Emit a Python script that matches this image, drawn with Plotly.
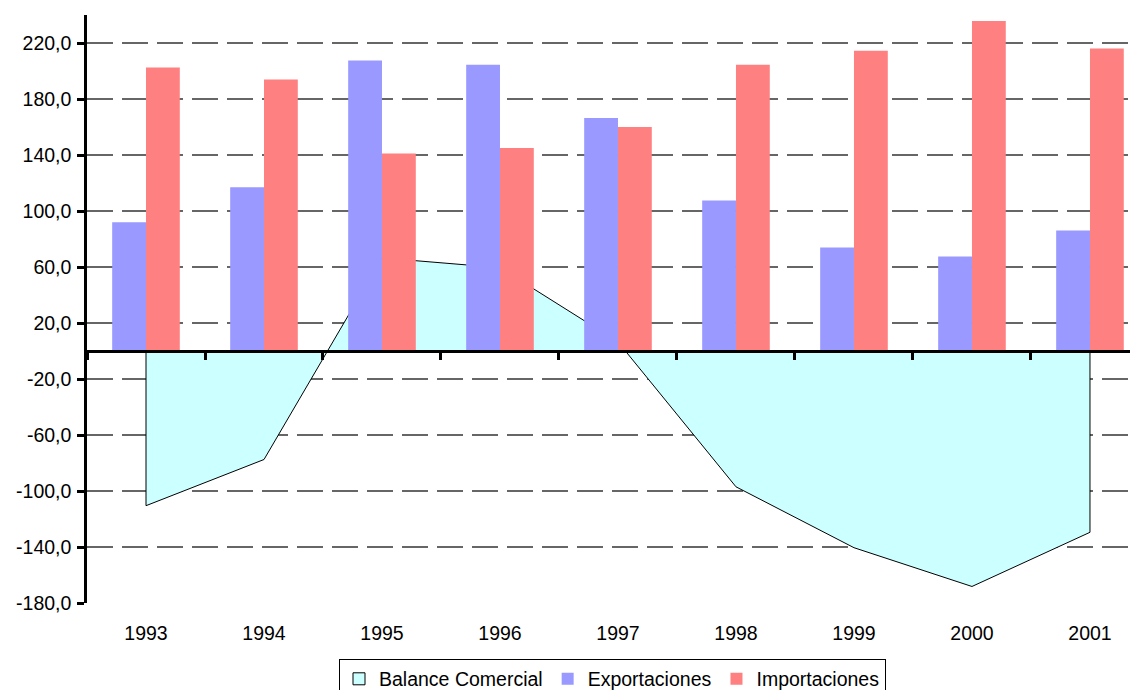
import plotly.graph_objects as go

years = ["1993", "1994", "1995", "1996", "1997", "1998", "1999", "2000", "2001"]
exportaciones = [92, 117, 207.5, 204.5, 166.5, 107.5, 74, 67.5, 86]
importaciones = [202.5, 194, 141, 145, 160, 204.5, 214.5, 235.7, 216]
balance = [-110.5, -77.5, 66.5, 59.5, 6.5, -97, -140.5, -168.2, -129.5]
y_ticks = [-180, -140, -100, -60, -20, 20, 60, 100, 140, 180, 220]
y_ticktext = [f"{v:.1f}".replace(".", ",") for v in y_ticks]

FONT = "Liberation Sans, Arial, sans-serif"
FS = 19.5
y_range = [-180, 240]
x_idx = list(range(len(years)))
x_range = [-0.5, 8.407]

fig = go.Figure()

# Area (closed with vertical edges at both ends)
fig.add_trace(go.Scatter(
    x=[x_idx[0]] + x_idx + [x_idx[-1]],
    y=[0] + balance + [0],
    mode="lines",
    fill="tozeroy",
    fillcolor="#CCFFFF",
    line=dict(color="black", width=1),
    name="Balance Comercial",
    legendgroup="bal", showlegend=False,
    xaxis="x", yaxis="y",
))
# legend entry for the area (square swatch with border)
fig.add_trace(go.Bar(
    x=[x_idx[0]], y=[None], name="Balance Comercial", legendgroup="bal",
    marker=dict(color="#CCFFFF", line=dict(color="black", width=1)),
    xaxis="x", yaxis="y", hoverinfo="skip",
))

fig.add_trace(go.Bar(
    x=x_idx, y=exportaciones, name="Exportaciones",
    marker=dict(color="#9999FF", line=dict(width=0)),
    xaxis="x2", yaxis="y2",
))
fig.add_trace(go.Bar(
    x=x_idx, y=importaciones, name="Importaciones",
    marker=dict(color="#FF8080", line=dict(width=0)),
    xaxis="x2", yaxis="y2",
))

zero_pos = (0 - y_range[0]) / (y_range[1] - y_range[0])

fig.update_layout(
    width=1130, height=682,
    margin=dict(l=79, r=0, t=6.7, b=86.7, autoexpand=False),
    paper_bgcolor="white", plot_bgcolor="white",
    font=dict(family=FONT, size=FS, color="black"),
    barmode="group", bargap=0.427, bargroupgap=0,
    showlegend=True,
    legend=dict(
        orientation="h", x=0.5, xanchor="center", y=-0.0946, yanchor="top",
        bordercolor="black", borderwidth=1, bgcolor="white",
        font=dict(family=FONT, size=FS, color="black"),
        itemwidth=30, tracegroupgap=0,
    ),
    xaxis=dict(
        range=x_range, tickmode="array", tickvals=x_idx, ticktext=years,
        showgrid=False, zeroline=False, showline=False, automargin=False,
        ticks="outside", ticklen=13, tickcolor="rgba(0,0,0,0)",
        tickfont=dict(family=FONT, size=FS, color="black"),
    ),
    xaxis2=dict(
        range=x_range, overlaying="x", anchor="free", position=zero_pos,
        tickmode="array", tickvals=[i - 0.5 for i in x_idx] + [x_idx[-1] + 0.5],
        showticklabels=False, showgrid=False, zeroline=False, automargin=False,
        showline=True, linecolor="black", linewidth=2.5,
        ticks="outside", ticklen=7, tickwidth=2.5, tickcolor="black",
    ),
    yaxis=dict(
        range=y_range, tickmode="array", tickvals=y_ticks, ticktext=y_ticktext,
        showgrid=True, gridcolor="#666666", gridwidth=1.5, griddash="26px,9px",
        zeroline=False, showline=True, linecolor="black", linewidth=2.5,
        automargin=False, ticklabelstandoff=2,
        ticks="outside", ticklen=7, tickwidth=2.5, tickcolor="black",
        tickfont=dict(family=FONT, size=FS, color="black"),
    ),
    yaxis2=dict(
        range=y_range, overlaying="y", anchor="x", visible=False,
        showgrid=False, zeroline=False, automargin=False,
    ),
)

fig.write_html("out.html")
